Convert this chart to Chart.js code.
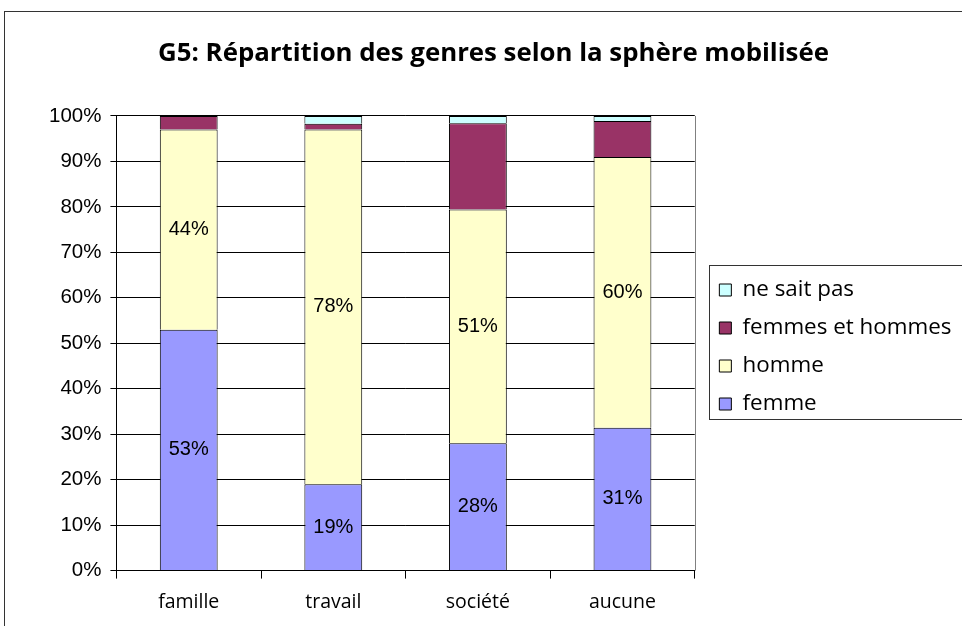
<!DOCTYPE html>
<html>
<head>
<meta charset="utf-8">
<script src="https://cdn.jsdelivr.net/npm/chart.js"></script>
<style>
  body { margin: 0; background: #fff; }
  canvas { display: block; }
</style>
</head>
<body>
<canvas id="chart1" width="962" height="626"></canvas>
<script>
const categories = ['famille', 'travail', 'société', 'aucune']
const femme = [53, 19, 28, 31.4]
const homme = [44, 78, 51.4, 59.6]
const femmesEtHommes = [3, 1.3, 19, 7.9]
const neSaitPas = [0, 1.7, 1.6, 1.1]
const yTicks = [0, 10, 20, 30, 40, 50, 60, 70, 80, 90, 100]

const colors = {
  femme: '#9999ff',
  homme: '#ffffcc',
  fh: '#993366',
  nsp: '#ccffff'
}

// white background, outer frame, plot right edge, legend frame
const framePlugin = {
  id: 'frame',
  afterLayout(chart) {
    // nudge legend and title, chart area stays put
    const lg = chart.legend
    lg.left += 9
    lg.right = chart.width
    lg.top += 34
    lg.bottom += 34
    const t = chart.titleBlock
    if (t) {
      t.left += 17
      t.right += 17
    }
  },
  beforeDraw(chart) {
    const ctx = chart.ctx
    ctx.save()
    ctx.fillStyle = '#fff'
    ctx.fillRect(0, 0, chart.width, chart.height)
    ctx.restore()
  },
  afterDraw(chart) {
    const ctx = chart.ctx
    const area = chart.chartArea
    ctx.save()
    ctx.lineWidth = 1
    ctx.strokeStyle = '#333'
    ctx.strokeRect(4.5, 11.5, chart.width + 50, chart.height + 50)

    ctx.strokeStyle = '#808080'
    ctx.beginPath()
    ctx.moveTo(Math.round(area.right) + 0.5, area.top)
    ctx.lineTo(Math.round(area.right) + 0.5, area.bottom)
    ctx.stroke()

    const lg = chart.legend
    const boxes = lg.legendHitBoxes
    if (boxes && boxes.length) {
      const first = boxes[0]
      const last = boxes[boxes.length - 1]
      const x = Math.round(first.left - 10) + 0.5
      const y = Math.round(first.top - 14) + 0.5
      const b = Math.round(last.top + last.height + 4) + 0.5
      ctx.strokeStyle = '#333'
      ctx.strokeRect(x, y, chart.width, b - y)
    }
    ctx.restore()
  }
}

// percentage labels inside femme / homme bars
const labelPlugin = {
  id: 'barLabels',
  afterDatasetsDraw(chart) {
    const ctx = chart.ctx
    ctx.save()
    ctx.font = '20px "Liberation Sans", Arial, sans-serif'
    ctx.fillStyle = '#000'
    ctx.textAlign = 'center'
    ctx.textBaseline = 'middle'
    chart.data.datasets.forEach((ds, i) => {
      if (!ds.showLabel) return
      chart.getDatasetMeta(i).data.forEach((bar, j) => {
        const v = ds.data[j]
        ctx.fillText(Math.round(v) + '%', bar.x, (bar.y + bar.base) / 2)
      })
    })
    ctx.restore()
  }
}

const data = {
  labels: categories,
  datasets: [
    { label: 'femme', data: femme, backgroundColor: colors.femme, showLabel: true },
    { label: 'homme', data: homme, backgroundColor: colors.homme, showLabel: true },
    { label: 'femmes et hommes', data: femmesEtHommes, backgroundColor: colors.fh },
    { label: 'ne sait pas', data: neSaitPas, backgroundColor: colors.nsp }
  ].map(ds => ({
    ...ds,
    borderColor: '#000',
    borderWidth: 1,
    barPercentage: 0.4,
    categoryPercentage: 1
  }))
}

const options = {
  responsive: false,
  animation: false,
  devicePixelRatio: 1,
  layout: {
    padding: { left: 40, right: 49, top: 0, bottom: 0 }
  },
  plugins: {
    title: {
      display: true,
      text: 'G5: Répartition des genres selon la sphère mobilisée',
      color: '#000',
      font: { family: '"Open Sans", "Noto Sans", sans-serif', size: 25.8, weight: 'bold' },
      padding: { top: 38, bottom: 47 }
    },
    legend: {
      position: 'right',
      reverse: true,
      labels: {
        boxWidth: 12,
        boxHeight: 12,
        padding: 15.6,
        color: '#000',
        font: { family: '"Open Sans", "Noto Sans", sans-serif', size: 22.4 }
      }
    },
    tooltip: { enabled: false }
  },
  scales: {
    x: {
      stacked: true,
      offset: true,
      grid: {
        drawOnChartArea: false,
        tickLength: 8,
        color: '#000',
        offset: true
      },
      border: { color: '#000' },
      ticks: {
        color: '#000',
        padding: 12,
        font: { family: '"Open Sans", "Noto Sans", sans-serif', size: 19.5 }
      }
    },
    y: {
      stacked: true,
      min: yTicks[0],
      max: yTicks[yTicks.length - 1],
      afterBuildTicks: axis => {
        axis.ticks = yTicks.map(v => ({ value: v }))
      },
      grid: {
        color: '#000',
        tickLength: 6
      },
      border: { color: '#000' },
      ticks: {
        color: '#000',
        padding: 9,
        font: { family: '"Liberation Sans", Arial, sans-serif', size: 20.5 },
        callback: v => v + '%'
      }
    }
  }
}

new Chart('chart1', {
  type: 'bar',
  data,
  options,
  plugins: [framePlugin, labelPlugin]
})
</script>
</body>
</html>
